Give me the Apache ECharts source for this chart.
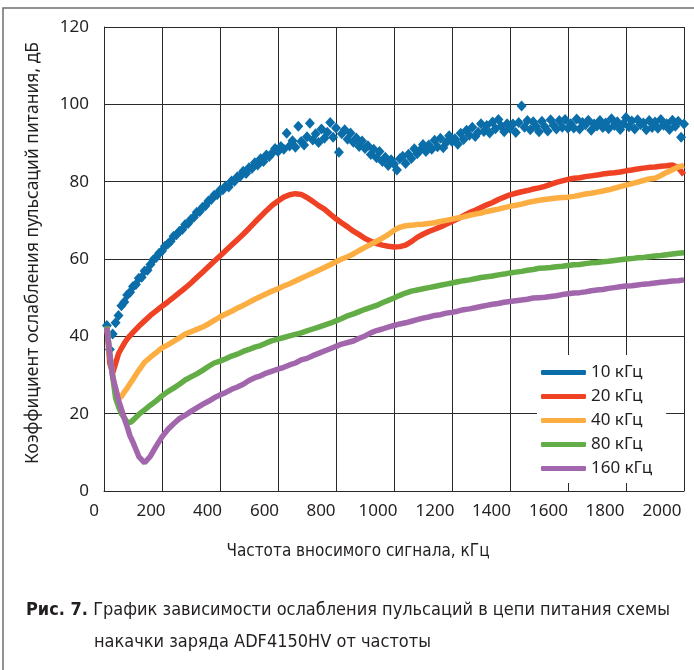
<!DOCTYPE html>
<html>
<head>
<meta charset="utf-8">
<script src="https://cdn.jsdelivr.net/npm/echarts@6/dist/echarts.min.js"></script>
<style>
    html, body { margin: 0; padding: 0; background: #fff; }
    #chart { width: 694px; height: 670px; }
</style>
</head>
<body>
<div id="chart"></div>
<script>
// Частоты развёртки (кГц)
const freqDots = [];
for (let f = 10; f <= 2000; f += 10) freqDots.push(f);
const freqLine = [];
for (let f = 10; f <= 100; f += 10) freqLine.push(f);
for (let f = 120; f <= 2000; f += 20) freqLine.push(f);

const seriesNames = ['10 кГц', '20 кГц', '40 кГц', '80 кГц', '160 кГц'];
const seriesColors = ['#0b6ea9', '#ef4123', '#fcae43', '#63ad47', '#a266ad'];
const xTicks = [0, 200, 400, 600, 800, 1000, 1200, 1400, 1600, 1800, 2000];

// 10 кГц - точки (шаг 10 кГц)
const psrr10 = [
    42.8, 36.6, 40.6, 43.5, 45.4, 47.9, 48.9, 50.7, 51.4, 52.9,
    53.4, 55.0, 55.3, 56.9, 57.1, 58.6, 59.8, 60.4, 61.5, 62.1,
    63.3, 63.9, 64.6, 65.9, 66.3, 67.2, 67.6, 68.9, 69.2, 70.3,
    70.8, 72.1, 72.3, 73.4, 73.8, 75.0, 75.4, 76.5, 76.6, 77.8,
    77.9, 78.9, 78.6, 80.2, 80.1, 81.3, 81.4, 82.7, 82.1, 83.6,
    83.4, 84.9, 84.3, 85.9, 85.2, 86.9, 86.5, 87.4, 88.6, 87.8,
    89.1, 88.4, 92.5, 89.2, 90.6, 88.9, 94.3, 90.4, 89.5, 91.6,
    95.1, 90.8, 92.4, 90.1, 93.6, 91.2, 92.8, 95.3, 91.5, 93.9,
    87.6, 92.4, 93.4, 91.0, 92.6, 90.2, 91.3, 89.1, 90.5, 88.6,
    89.3, 87.0, 88.4, 86.2, 87.8, 85.2, 86.3, 84.2, 85.7, 84.6,
    83.0, 85.9, 86.6, 84.7, 87.1, 86.0, 88.5, 87.2, 88.1, 89.6,
    87.8, 89.5, 88.4, 90.7, 89.0, 91.2, 88.8, 90.1, 91.9, 90.4,
    91.1, 89.7, 92.5, 90.9, 93.3, 92.0, 94.1, 91.7, 92.8, 95.0,
    93.0, 94.5, 92.6, 95.4, 93.7, 96.1, 94.3, 92.9, 95.0, 93.8,
    94.9, 92.7, 95.3, 99.6, 94.1, 95.8, 93.4, 95.5, 94.3, 92.9,
    95.6, 94.2, 93.1, 96.0, 94.6, 93.6, 95.8, 94.1, 96.1, 93.8,
    95.0, 93.9, 96.2, 93.6, 95.3, 94.7, 95.9, 93.3, 94.9, 94.4,
    95.8, 94.0, 95.2, 93.7, 96.3, 94.5, 95.5, 93.5, 94.9, 96.6,
    94.2, 95.7, 93.6, 96.0, 94.8, 95.2, 93.4, 95.8, 94.0, 95.4,
    93.8, 96.1, 94.6, 95.0, 93.5, 95.9, 94.3, 95.6, 91.5, 94.9
];

// 20 кГц
const psrr20 = [
    42.4, 33.0, 30.5, 33.0, 35.5, 36.9, 38.2, 39.3, 40.2, 41.0,
    42.6, 44.0, 45.4, 46.6, 47.8,
    48.9, 50.1, 51.3, 52.5, 53.8, 55.2, 56.6, 58.0, 59.4, 60.8,
    62.2, 63.6, 65.0, 66.4, 67.9, 69.5, 71.0, 72.5, 73.9, 75.0,
    76.0, 76.6, 76.9, 76.7, 75.9, 74.9, 73.8, 72.9, 71.6, 70.4,
    69.3, 68.3, 67.2, 66.3, 65.3, 64.6, 64.0, 63.6, 63.3, 63.1,
    63.2, 63.6, 64.5, 65.6, 66.4, 67.1, 67.7, 68.3, 69.0, 69.7,
    70.4, 71.2, 72.0, 72.6, 73.3, 74.0, 74.6, 75.4, 76.0, 76.6,
    77.0, 77.4, 77.7, 78.1, 78.4, 78.8, 79.3, 79.8, 80.2, 80.6,
    80.9, 81.0, 81.3, 81.5, 81.7, 82.0, 82.2, 82.3, 82.5, 82.8,
    83.0, 83.3, 83.5, 83.7, 83.8, 84.0, 84.1, 84.3, 83.6, 81.8
];

// 40 кГц
const psrr40 = [
    42.5, 35.4, 29.8, 26.3, 24.0, 24.4, 25.6, 26.6, 27.8, 28.9,
    31.2, 33.3, 34.6, 35.8, 37.0,
    37.8, 38.7, 39.6, 40.6, 41.2, 41.8, 42.4, 43.2, 44.1, 45.0,
    45.8, 46.5, 47.3, 48.0, 48.8, 49.6, 50.3, 51.0, 51.7, 52.3,
    53.0, 53.6, 54.3, 55.0, 55.7, 56.4, 57.1, 57.8, 58.5, 59.3,
    60.0, 60.6, 61.3, 62.2, 63.0, 63.8, 64.6, 65.4, 66.3, 67.4,
    68.2, 68.6, 68.7, 68.9, 69.0, 69.2, 69.4, 69.7, 70.0, 70.3,
    70.6, 70.9, 71.3, 71.6, 71.9, 72.3, 72.6, 72.9, 73.3, 73.6,
    73.9, 74.2, 74.6, 74.9, 75.2, 75.4, 75.6, 75.8, 75.9, 76.0,
    76.2, 76.5, 76.8, 77.0, 77.3, 77.6, 77.9, 78.3, 78.7, 79.1,
    79.5, 79.9, 80.3, 80.7, 80.9, 81.6, 82.4, 83.1, 83.8, 84.2
];

// 80 кГц
const psrr80 = [
    42.6, 35.2, 29.6, 24.0, 21.8, 20.0, 18.9, 17.8, 17.7, 18.3,
    19.8, 21.0, 22.2, 23.3, 24.6,
    25.7, 26.6, 27.6, 28.7, 29.5, 30.3, 31.2, 32.2, 33.1, 33.6,
    34.2, 34.9, 35.4, 36.1, 36.6, 37.2, 37.6, 38.3, 38.9, 39.3,
    39.7, 40.1, 40.5, 40.9, 41.4, 41.9, 42.4, 42.9, 43.4, 44.0,
    44.6, 45.3, 45.8, 46.4, 47.0, 47.5, 48.0, 48.7, 49.3, 49.9,
    50.6, 51.2, 51.7, 52.0, 52.3, 52.6, 52.9, 53.2, 53.5, 53.8,
    54.1, 54.4, 54.6, 54.9, 55.2, 55.4, 55.6, 55.9, 56.1, 56.4,
    56.6, 56.8, 57.1, 57.3, 57.6, 57.7, 57.8, 58.0, 58.1, 58.3,
    58.5, 58.6, 58.8, 59.0, 59.1, 59.3, 59.4, 59.6, 59.8, 60.0,
    60.1, 60.3, 60.4, 60.6, 60.8, 60.9, 61.1, 61.3, 61.5, 61.6
];

// 160 кГц
const psrr160 = [
    42.3, 35.5, 29.5, 26.6, 23.5, 21.2, 18.8, 16.6, 14.2, 12.6,
    8.9, 7.3, 9.0, 11.6, 14.0,
    15.9, 17.4, 18.7, 19.6, 20.6, 21.5, 22.4, 23.2, 24.1, 24.8,
    25.5, 26.3, 26.9, 27.6, 28.6, 29.3, 29.8, 30.5, 31.0, 31.5,
    32.0, 32.6, 33.1, 33.9, 34.3, 35.0, 35.6, 36.2, 36.8, 37.4,
    38.0, 38.4, 38.8, 39.5, 40.1, 40.9, 41.5, 41.9, 42.4, 42.8,
    43.2, 43.5, 43.9, 44.3, 44.7, 45.0, 45.4, 45.6, 46.0, 46.2,
    46.5, 46.9, 47.1, 47.4, 47.7, 48.0, 48.3, 48.5, 48.8, 49.0,
    49.2, 49.4, 49.6, 49.9, 50.0, 50.1, 50.3, 50.5, 50.8, 51.0,
    51.2, 51.3, 51.5, 51.8, 52.0, 52.1, 52.4, 52.6, 52.8, 53.0,
    53.1, 53.3, 53.5, 53.6, 53.8, 54.0, 54.1, 54.3, 54.4, 54.6
];

const lineData = [psrr20, psrr40, psrr80, psrr160];

const TEXT = '#231f20';
const GRID = '#2a2a2a';
const NARROW = '"Liberation Sans Narrow", "DejaVu Sans Condensed", sans-serif';

// подписи оси X слегка сдвинуты влево, как в оригинале
const xRich = {};
xTicks.forEach(function (t, i) {
    xRich['l' + i] = { padding: [0, Math.round(2 * (10 + 1.2 * i)), 0, 0] };
});

const chart = echarts.init(document.getElementById('chart'), null, { renderer: 'canvas' });

const series = [{
    name: seriesNames[0],
    type: 'scatter',
    symbol: 'diamond',
    symbolSize: [10, 11],
    large: false,
    progressive: 0,
    itemStyle: { color: seriesColors[0], opacity: 1 },
    data: freqDots.map(function (f, i) { return [f, psrr10[i]]; }),
    z: 2
}];
lineData.forEach(function (arr, k) {
    series.push({
        name: seriesNames[k + 1],
        type: 'line',
        showSymbol: false,
        symbol: 'none',
        lineStyle: { width: 5.5, color: seriesColors[k + 1] },
        itemStyle: { color: seriesColors[k + 1] },
        data: freqLine.map(function (f, i) { return [f, arr[i]]; }),
        z: 3 + k
    });
});

chart.setOption({
    animation: false,
    backgroundColor: '#fff',
    grid: { left: 104, right: 10, top: 27, bottom: 179, containLabel: false, outerBoundsMode: 'none' },
    legend: {
        orient: 'vertical',
        left: 537,
        top: 355,
        padding: [9, 14, 6, 4],
        backgroundColor: '#fff',
        icon: 'roundRect',
        itemWidth: 45,
        itemHeight: 5,
        itemGap: 7,
        textStyle: { fontSize: 17, color: TEXT, fontFamily: 'Noto Sans', lineHeight: 16 },
        data: seriesNames
    },
    xAxis: {
        type: 'value',
        min: 0,
        max: 2000,
        interval: 200,
        name: 'Частота вносимого сигнала, кГц',
        nameLocation: 'middle',
        nameGap: 52,
        nameTextStyle: { fontSize: 17, color: TEXT, fontFamily: NARROW, padding: [0, 72, 0, 0] },
        axisLine: { lineStyle: { color: GRID, width: 1 } },
        axisTick: { show: false },
        splitLine: { show: true, lineStyle: { color: GRID, width: 1 } },
        axisLabel: {
            fontSize: 17,
            color: TEXT,
            fontFamily: 'Noto Sans',
            margin: 12,
            formatter: function (v) { return '{l' + Math.round(v / 200) + '|' + v + '}'; },
            rich: xRich
        }
    },
    yAxis: {
        type: 'value',
        min: 0,
        max: 120,
        interval: 20,
        name: 'Коэффициент ослабления пульсаций питания, дБ',
        nameLocation: 'middle',
        nameGap: 62,
        nameTextStyle: { fontSize: 17.5, color: TEXT, fontFamily: 'Noto Sans', padding: [0, 0, 0, 12] },
        axisLine: { show: true, lineStyle: { color: GRID, width: 1 } },
        axisTick: { show: false },
        splitLine: { show: true, lineStyle: { color: GRID, width: 1 } },
        axisLabel: { fontSize: 17, color: TEXT, fontFamily: 'Noto Sans', margin: 15 }
    },
    graphic: [
        {
            type: 'rect',
            z: -10,
            shape: { x: 3, y: 8, width: 720, height: 720 },
            style: { fill: 'none', stroke: '#6d6e71', lineWidth: 1.5 }
        },
        {
            type: 'text',
            left: 26,
            top: 601,
            style: {
                text: '{b|Рис. 7.} График зависимости ослабления пульсаций в цепи питания схемы',
                fontSize: 18,
                fontFamily: NARROW,
                fill: TEXT,
                rich: { b: { fontWeight: 'bold', fontSize: 18, fontFamily: NARROW, fill: TEXT } }
            }
        },
        {
            type: 'text',
            left: 94,
            top: 633,
            style: {
                text: 'накачки заряда ADF4150HV от частоты',
                fontSize: 18,
                fontFamily: NARROW,
                fill: TEXT
            }
        }
    ],
    series: series
});
</script>
</body>
</html>
